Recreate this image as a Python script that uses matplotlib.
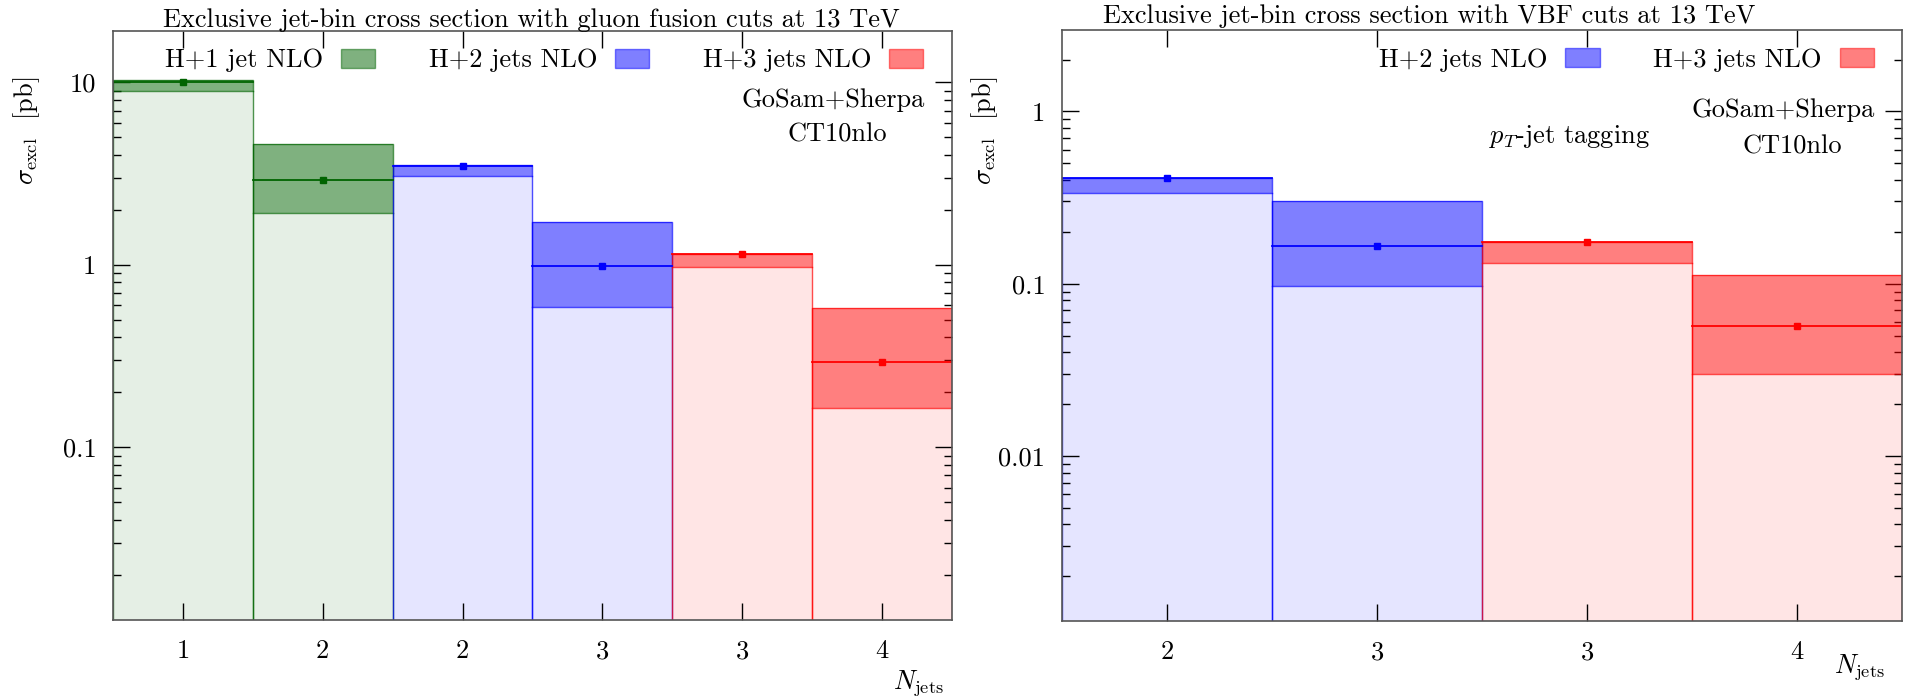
import matplotlib
matplotlib.use("Agg")
import matplotlib.pyplot as plt
from matplotlib.patches import Patch
from matplotlib.ticker import FixedLocator, FixedFormatter, LogLocator, NullFormatter
import numpy as np

plt.rcParams['font.family'] = 'serif'
plt.rcParams['font.serif'] = ['cmr10']
plt.rcParams['mathtext.fontset'] = 'cm'
plt.rcParams['axes.unicode_minus'] = False

FS = 19

# gluon fusion cuts: one column per (sample, jet bin)
gf_labels = ['1', '2', '2', '3', '3', '4']
gf_sample = [1, 1, 2, 2, 3, 3]
gf_central = [10.0, 2.93, 3.48, 0.98, 1.14, 0.295]
gf_low = [9.0, 1.93, 3.07, 0.585, 0.968, 0.164]
gf_high = [10.3, 4.61, 3.51, 1.71, 1.14, 0.578]

# VBF cuts
vbf_labels = ['2', '3', '3', '4']
vbf_sample = [2, 2, 3, 3]
vbf_central = [0.41, 0.165, 0.175, 0.0566]
vbf_low = [0.337, 0.0966, 0.132, 0.030]
vbf_high = [0.41, 0.30, 0.175, 0.113]

colors = {1: '#006400', 2: '#0000ff', 3: '#ff0000'}
names = {1: 'H+1 jet NLO', 2: 'H+2 jets NLO', 3: 'H+3 jets NLO'}


def draw_bins(ax, labels, sample, central, low, high, ylim):
    x = np.arange(1, len(labels) + 1)
    floor = ylim[0] * 1e-2
    for xi, s, c, lo, hi in zip(x, sample, central, low, high):
        col = colors[s]
        ax.bar(xi, lo - floor, bottom=floor, width=1.0, color=col, alpha=0.1,
               linewidth=0, zorder=1)
        ax.bar(xi, hi - lo, bottom=lo, width=1.0, color=col, alpha=0.5,
               linewidth=0, zorder=2)
        # column outline
        ax.plot([xi - 0.5, xi - 0.5, xi + 0.5, xi + 0.5],
                [floor, hi, hi, floor], color=col, lw=1.0, alpha=0.7, zorder=3)
        ax.plot([xi - 0.5, xi + 0.5], [lo, lo], color=col, lw=1.0, alpha=0.7,
                zorder=3)
        ax.plot([xi - 0.5, xi + 0.5], [c, c], color=col, lw=1.3, zorder=4)
        ax.plot([xi], [c], 's', color=col, ms=5, zorder=5)

    ax.set_yscale('log')
    ax.set_xlim(0.5, len(labels) + 0.5)
    ax.set_ylim(*ylim)
    ax.xaxis.set_major_locator(FixedLocator(x))
    ax.xaxis.set_major_formatter(FixedFormatter(labels))
    majors = [v for v in [0.001, 0.01, 0.1, 1, 10] if ylim[0] <= v <= ylim[1]]
    ax.yaxis.set_major_locator(FixedLocator(majors))
    ax.yaxis.set_major_formatter(FixedFormatter(['%g' % v for v in majors]))
    ax.yaxis.set_minor_locator(LogLocator(base=10, subs=np.arange(2, 10)))
    ax.yaxis.set_minor_formatter(NullFormatter())
    ax.tick_params(axis='x', which='major', direction='in', length=12, width=1,
                   top=True, bottom=True, pad=14, labelsize=FS)
    ax.tick_params(axis='y', which='major', direction='in', length=12, width=1,
                   left=True, right=True, pad=12, labelsize=FS)
    ax.tick_params(axis='y', which='minor', direction='in', length=6, width=1,
                   left=True, right=True)
    for sp in ax.spines.values():
        sp.set_color('#555555')
        sp.set_linewidth(1.2)
        sp.set_zorder(6)

    used = sorted(set(sample))
    handles = [Patch(facecolor=colors[s], alpha=0.5, edgecolor=colors[s],
                     linewidth=1.0, label=names[s]) for s in used]
    ax.legend(handles=handles, ncol=len(handles), loc='upper right',
              bbox_to_anchor=(0.966, 0.9695), borderaxespad=0, borderpad=0,
              frameon=False, markerfirst=False, fontsize=FS,
              handlelength=1.29, handleheight=0.72, handletextpad=0.68,
              columnspacing=2.03)


fig = plt.figure(figsize=(19.05, 6.97), dpi=100)
ax1 = fig.add_axes([0.0593, 0.1105, 0.4404, 0.8455])
ax2 = fig.add_axes([0.5575, 0.1090, 0.4410, 0.8480])

draw_bins(ax1, gf_labels, gf_sample, gf_central, gf_low, gf_high, (0.0113, 19.2))
draw_bins(ax2, vbf_labels, vbf_sample, vbf_central, vbf_low, vbf_high, (0.0011, 2.97))

fig.text(0.2787, 0.9617, 'Exclusive jet-bin cross section with gluon fusion cuts at 13 TeV',
         ha='center', va='baseline', fontsize=FS)
fig.text(0.7501, 0.9670, 'Exclusive jet-bin cross section with VBF cuts at 13 TeV',
         ha='center', va='baseline', fontsize=FS)

for xf, yf in [(27 / 1905, 1 - 131 / 697), (985 / 1905, 1 - 131 / 697)]:
    fig.text(xf, yf, r'$\sigma_{\rm excl}$  [pb]', rotation=90, ha='center',
             va='center', fontsize=FS)

fig.text(918 / 1905, 1 - 683 / 697, r'$N_{\rm jets}$', ha='center', va='center', fontsize=FS)
fig.text(1859 / 1905, 1 - 667 / 697, r'$N_{\rm jets}$', ha='center', va='center', fontsize=FS)

fig.text(833 / 1905, 1 - 100 / 697, 'GoSam+Sherpa', ha='center', va='center', fontsize=FS)
fig.text(837 / 1905, 1 - 135 / 697, 'CT10nlo', ha='center', va='center', fontsize=FS)
fig.text(1783 / 1905, 1 - 110 / 697, 'GoSam+Sherpa', ha='center', va='center', fontsize=FS)
fig.text(1792 / 1905, 1 - 147 / 697, 'CT10nlo', ha='center', va='center', fontsize=FS)
fig.text(1569 / 1905, 1 - 137 / 697, r'$p_T$-jet tagging', ha='center', va='center', fontsize=FS)

fig.savefig('out.png', dpi=100)
